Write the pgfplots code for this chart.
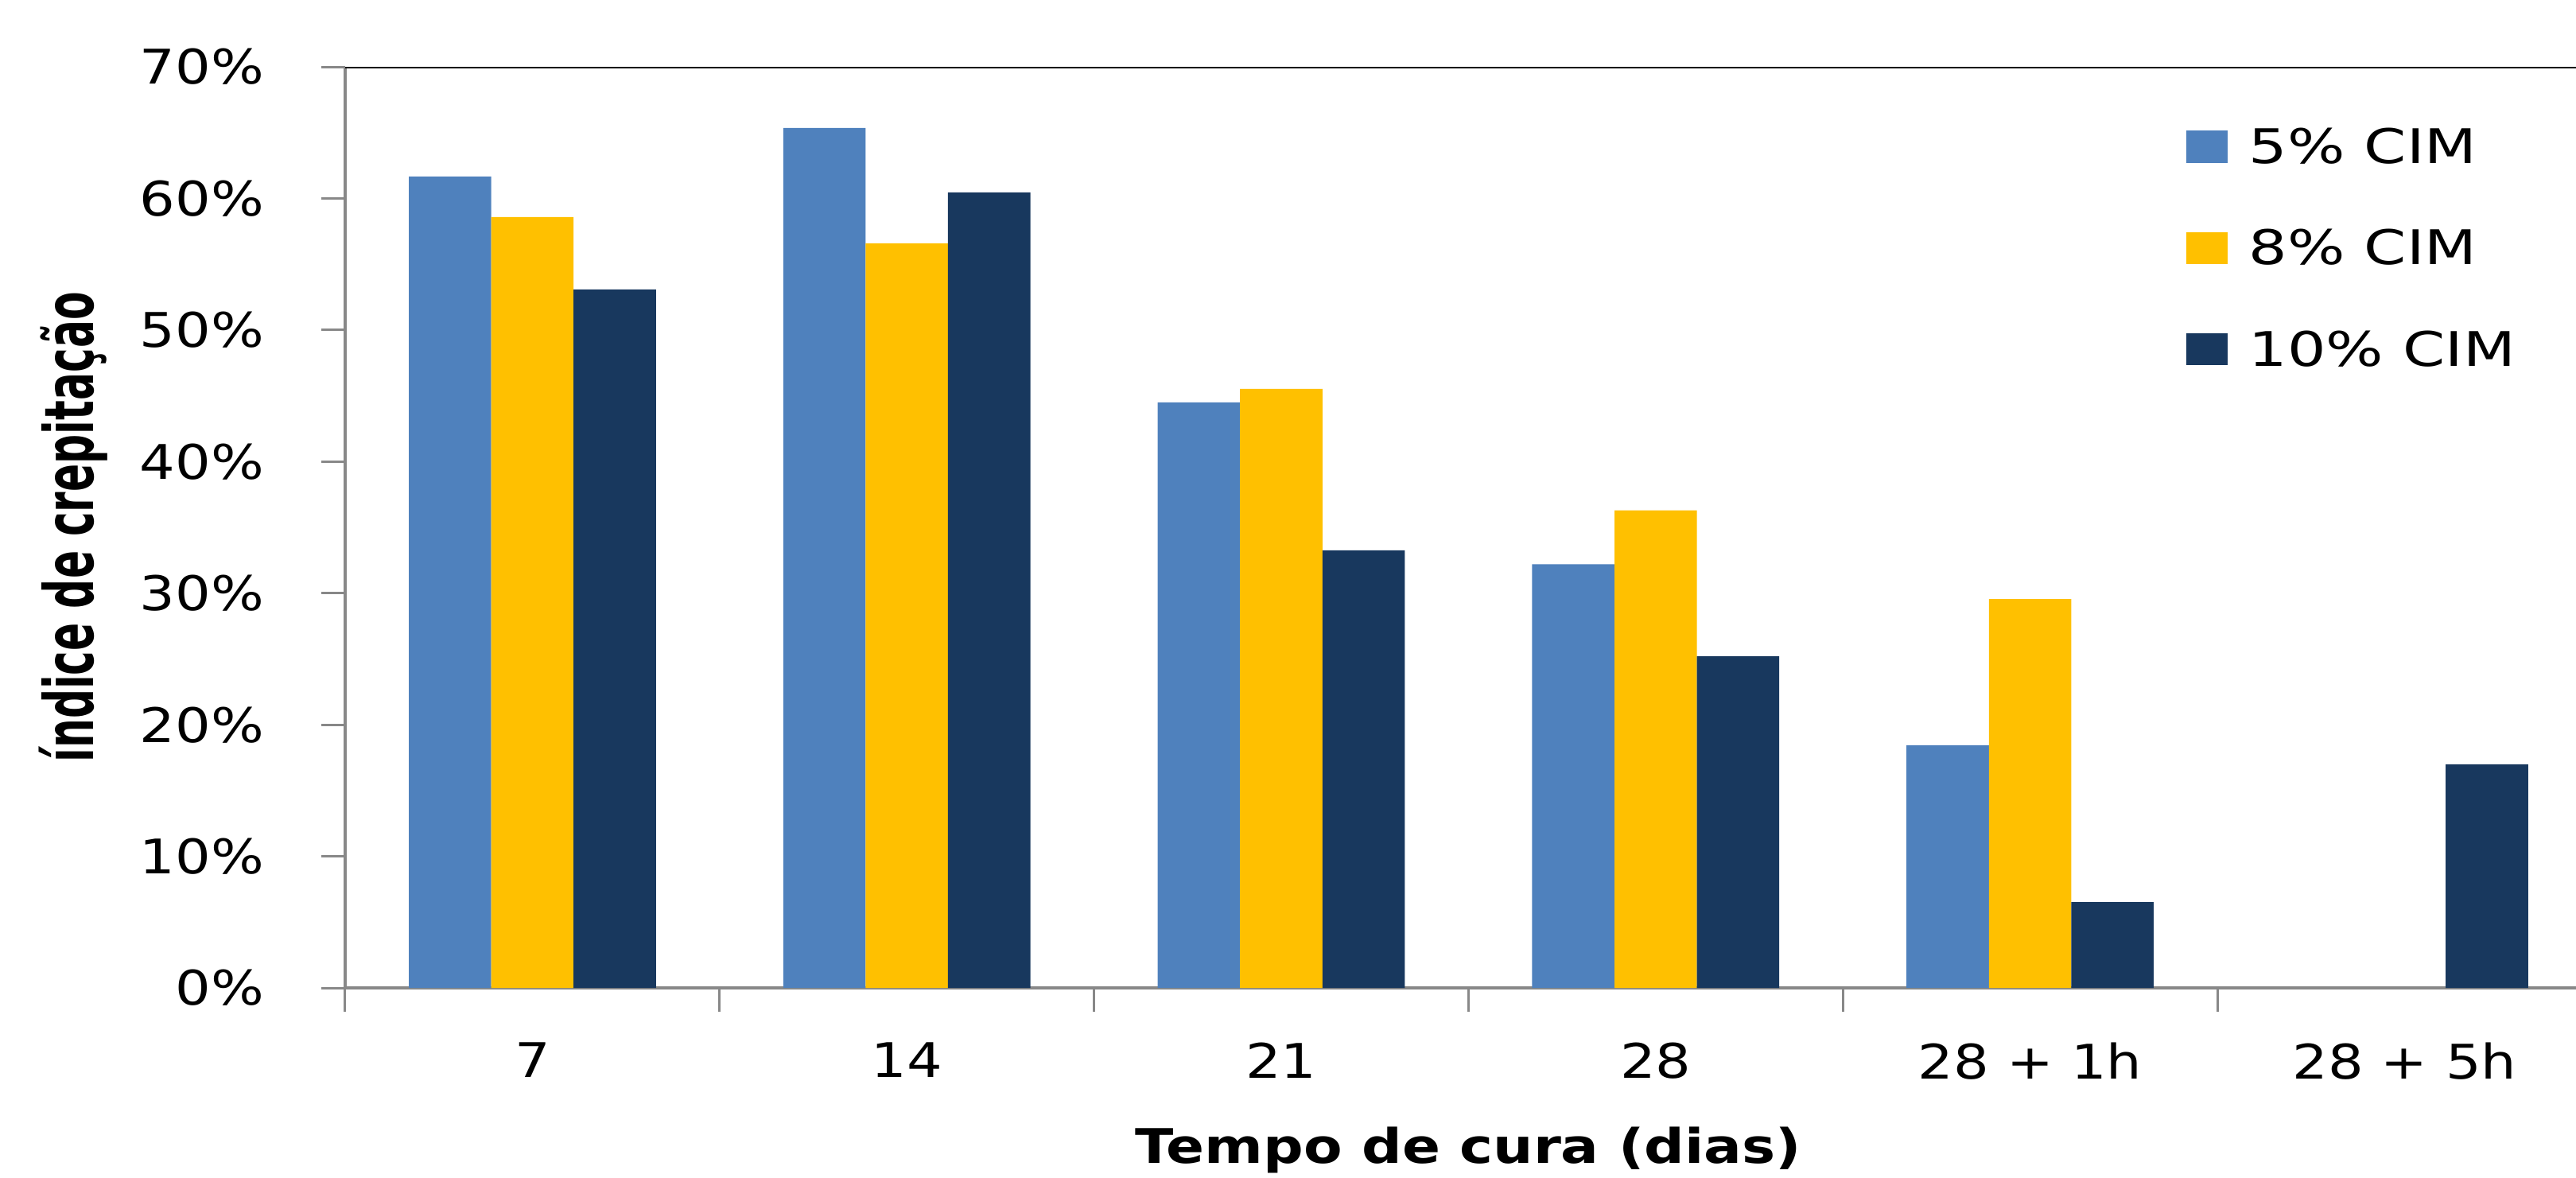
\documentclass[border=0pt]{standalone}
\usepackage{pgfplots}
\pgfplotsset{compat=1.18}
\usepackage{graphicx}
\usepackage{fontspec}
\setmainfont{DejaVu Sans}
\definecolor{cblue}{RGB}{79,129,189}
\definecolor{cyellow}{RGB}{255,192,0}
\definecolor{cdark}{RGB}{24,56,94}
\definecolor{axgray}{RGB}{136,136,136}
\begin{document}
\begin{tikzpicture}
\useasboundingbox (0,0) rectangle (539.83pt,246.67pt);
\begin{axis}[
  at={(72.33pt,39.67pt)}, anchor=south west,
  scale only axis, width=470.8pt, height=193pt,
  xmin=-0.5, xmax=5.5, ymin=0, ymax=70,
  axis x line=bottom, axis y line=left,
  axis line style={-, draw=axgray, line width=0.8pt},
  tick align=outside, major tick length=5pt,
  tick style={draw=axgray, line width=0.5pt},
  xtick={-0.5,0.5,1.5,2.5,3.5,4.5,5.5},
  x tick label as interval=true,
  xticklabels={\scalebox{1.17}[1]{7},\scalebox{1.17}[1]{14},\scalebox{1.17}[1]{21},\scalebox{1.17}[1]{28},\scalebox{1.17}[1]{28 + 1h},\scalebox{1.17}[1]{28 + 5h}},
  xticklabel shift=3pt,
  ytick={0,10,...,70},
  /pgf/number format/assume math mode=true,
  yticklabel={\scalebox{1.17}[1]{\pgfmathprintnumber{\tick}\%}},
  yticklabel shift=8.5pt,
  ticklabel style={font=\fontsize{10}{12}\selectfont},
  xlabel={\scalebox{1.18}[1]{\bfseries\fontsize{10}{12}\selectfont Tempo de cura (dias)}},
  xlabel style={at={(rel axis cs:0.5,0)}, anchor=base, yshift=-36.7pt},
  ylabel={\scalebox{0.72}[1.19]{\bfseries\fontsize{12}{14}\selectfont índice de crepitação}},
  ylabel style={at={([xshift=-56.9pt]rel axis cs:0,0.5)}, anchor=center},
  ybar=0pt, bar width=0.22,
  legend style={at={(rel axis cs:0.819,1)}, anchor=north west, yshift=-12.7pt,
    draw=none, fill=none, inner sep=0pt, row sep=12.25pt, column sep=4.5pt,
    nodes={inner sep=0pt}, font=\fontsize{10}{12}\selectfont},
  legend cell align=left,
  legend image code/.code={\fill[#1] (0pt,-2.75pt) rectangle (8.7pt,3.95pt);},
]
\addplot[fill=cblue, draw=none, bar shift=-0.22] coordinates {(0,61.67) (1,65.36) (2,44.5) (3,32.2) (4,18.45)};
\addplot[fill=cyellow, draw=none, bar shift=0] coordinates {(0,58.58) (1,56.59) (2,45.53) (3,36.3) (4,29.56)};
\addplot[fill=cdark, draw=none, bar shift=0.22] coordinates {(0,53.08) (1,60.46) (2,33.25) (3,25.2) (4,6.53) (5,17.0)};
\legend{\scalebox{1.27}[1]{5\% CIM},\scalebox{1.27}[1]{8\% CIM},\scalebox{1.27}[1]{10\% CIM}}
\draw[black, line width=0.5pt] (rel axis cs:0,1) -- (rel axis cs:1,1);
\end{axis}
\end{tikzpicture}
\end{document}
